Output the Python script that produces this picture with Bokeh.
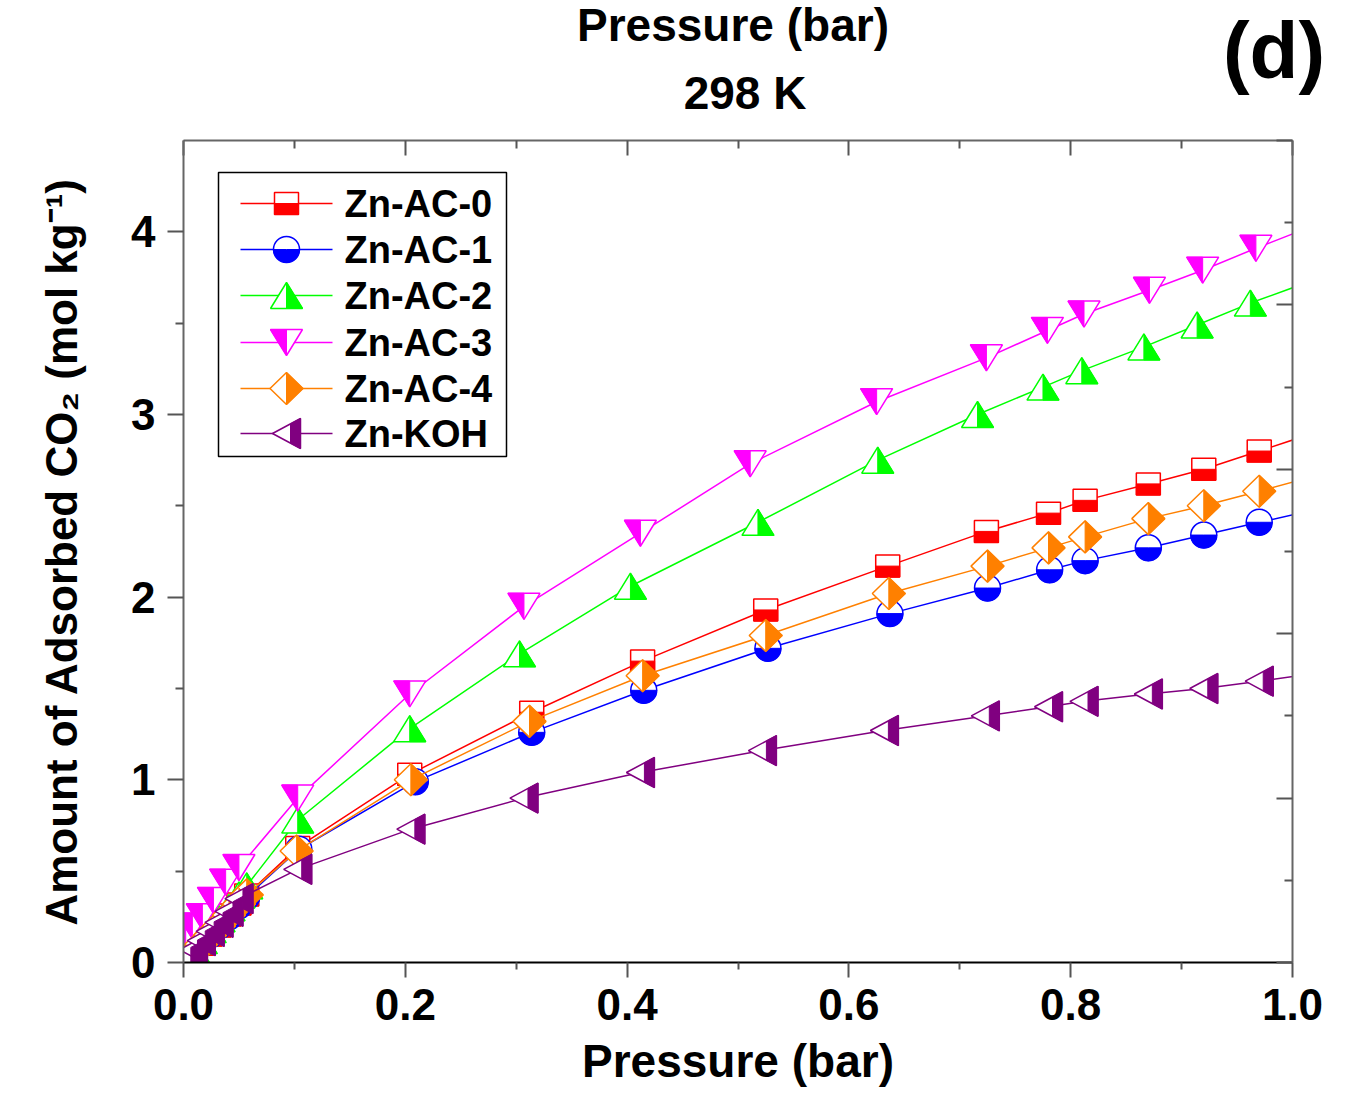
import numpy as np
from bokeh.plotting import figure
from bokeh.layouts import column
from bokeh.models import (Range1d, LinearAxis, Label, FixedTicker, Div,
                          PrintfTickFormatter, CustomJSTickFormatter)
from bokeh.embed import file_html
from bokeh.resources import INLINE

# ---------------- data ----------------
names = ["Zn-AC-0", "Zn-AC-1", "Zn-AC-2", "Zn-AC-3", "Zn-AC-4", "Zn-KOH"]

p_ac0 = [0.003, 0.009, 0.016, 0.024, 0.032, 0.041, 0.050, 0.057, 0.103, 0.204, 0.314, 0.414,
         0.525, 0.635, 0.724, 0.780, 0.813, 0.870, 0.920, 0.970, 1.030]
q_ac0 = [0.01, 0.05, 0.10, 0.15, 0.20, 0.26, 0.32, 0.37, 0.63, 1.03, 1.37, 1.65,
         1.93, 2.17, 2.36, 2.46, 2.53, 2.62, 2.70, 2.80, 2.92]

p_ac1 = [0.003, 0.009, 0.016, 0.024, 0.032, 0.041, 0.050, 0.057, 0.104, 0.209, 0.314, 0.415,
         0.527, 0.637, 0.725, 0.781, 0.813, 0.870, 0.920, 0.970, 1.030]
q_ac1 = [0.01, 0.05, 0.10, 0.15, 0.20, 0.25, 0.31, 0.36, 0.62, 0.99, 1.26, 1.49,
         1.72, 1.91, 2.05, 2.15, 2.20, 2.27, 2.34, 2.41, 2.49]

p_ac2 = [0.003, 0.009, 0.016, 0.024, 0.032, 0.041, 0.050, 0.057, 0.103, 0.204, 0.303, 0.403,
         0.518, 0.626, 0.716, 0.775, 0.810, 0.866, 0.914, 0.962, 1.030]
q_ac2 = [0.02, 0.07, 0.12, 0.18, 0.24, 0.30, 0.37, 0.42, 0.78, 1.28, 1.69, 2.06,
         2.41, 2.75, 3.00, 3.15, 3.24, 3.37, 3.49, 3.61, 3.76]

p_ac3 = [0.002, 0.008, 0.017, 0.027, 0.038, 0.050, 0.103, 0.204, 0.307, 0.412,
         0.511, 0.625, 0.724, 0.779, 0.812, 0.871, 0.919, 0.967, 1.030]
q_ac3 = [0.15, 0.20, 0.25, 0.34, 0.44, 0.52, 0.90, 1.47, 1.95, 2.35,
         2.73, 3.07, 3.31, 3.46, 3.55, 3.68, 3.79, 3.91, 4.06]

p_ac4 = [0.003, 0.009, 0.016, 0.024, 0.032, 0.041, 0.050, 0.057, 0.102, 0.205, 0.312, 0.414,
         0.525, 0.636, 0.725, 0.780, 0.813, 0.870, 0.920, 0.970, 1.030]
q_ac4 = [0.01, 0.05, 0.10, 0.15, 0.20, 0.26, 0.32, 0.37, 0.61, 1.00, 1.32, 1.57,
         1.79, 2.02, 2.17, 2.27, 2.33, 2.43, 2.50, 2.58, 2.68]

p_koh = [0.003, 0.009, 0.016, 0.024, 0.032, 0.041, 0.050, 0.103, 0.205, 0.307, 0.412,
         0.522, 0.632, 0.723, 0.780, 0.812, 0.870, 0.920, 0.970, 1.030]
q_koh = [0.03, 0.07, 0.12, 0.17, 0.22, 0.28, 0.35, 0.51, 0.73, 0.90, 1.04,
         1.16, 1.27, 1.35, 1.40, 1.43, 1.47, 1.50, 1.54, 1.59]

x_ticks = [0.0, 0.2, 0.4, 0.6, 0.8, 1.0]
x_minor = [0.1, 0.3, 0.5, 0.7, 0.9]
y_ticks = [0, 1, 2, 3, 4]
y_minor = [0.5, 1.5, 2.5, 3.5]
r_ticks = [0, 1, 2, 3, 4, 5]
r_minor = [0.5, 1.5, 2.5, 3.5, 4.5]

# ---------------- styles / layout ----------------
colors = ["#FF0000", "#0000FF", "#00FF00", "#FF00FF", "#FF8000", "#800080"]
shapes = ["square", "circle", "tri_up", "tri_down", "diamond", "tri_left"]
FONT = "Liberation Sans"

TOTAL_W, TOTAL_H = 1353, 1089
HEAD_H = 125                       # header strip with the titles
FW, FH = 1109, 822                 # frame size in px
X0, X1, Y0, Y1 = 0.0, 1.0, 0.0, 4.5
SX = FW / (X1 - X0)
SY = FH / (Y1 - Y0)
PAGE_FL, PAGE_FT = 183, 140        # frame left/top in picture px
LEFT, RIGHT = PAGE_FL, TOTAL_W - PAGE_FL - FW
TOP = PAGE_FT - HEAD_H
BOTTOM = TOTAL_H - PAGE_FT - FH


def px2x(px):
    return X0 + (px - PAGE_FL) / SX


def py2y(py):
    return Y1 - (py - PAGE_FT) / SY


# marker outlines and filled halves (pixel offsets, y up)
OUTLINE = {
    "square": [(-12, -11), (12, -11), (12, 11), (-12, 11)],
    "tri_up": [(-16, -13), (16, -13), (0, 13)],
    "tri_down": [(-16, 13), (16, 13), (0, -13)],
    "diamond": [(0, 16), (16.5, 0), (0, -16), (-16.5, 0)],
    "tri_left": [(-14, 0), (14, 15), (14, -15)],
}
FILL = {
    "square": [(-12, -11), (12, -11), (12, 0), (-12, 0)],
    "tri_up": [(0, -13), (16, -13), (0, 13)],
    "tri_down": [(-16, 13), (0, 13), (0, -13)],
    "diamond": [(0, 16), (16.5, 0), (0, -16)],
    "tri_left": [(4, 9.64), (14, 15), (14, -15), (4, -9.64)],
}


def polys(xs, ys, offs):
    pxs = [[x + dx / SX for dx, _ in offs] for x in xs]
    pys = [[y + dy / SY for _, dy in offs] for y in ys]
    return pxs, pys


def draw_markers(p, xs, ys, shape, color):
    if shape == "circle":
        p.scatter(xs, ys, marker="circle", size=26, fill_color="white",
                  line_color=color, line_width=1.5)
        p.wedge(xs, ys, radius=13, radius_units="screen", start_angle=np.pi,
                end_angle=2 * np.pi, direction="anticlock",
                fill_color=color, line_color=color, line_width=1)
    else:
        oxs, oys = polys(xs, ys, OUTLINE[shape])
        p.patches(oxs, oys, fill_color="white", line_color=color, line_width=1.5)
        fxs, fys = polys(xs, ys, FILL[shape])
        p.patches(fxs, fys, fill_color=color, line_color=color, line_width=1)


def style_axis(ax, line_color):
    ax.axis_line_color = line_color
    ax.axis_line_width = 2
    ax.major_tick_line_color = "#555555"
    ax.minor_tick_line_color = "#555555"
    ax.major_tick_line_width = 2
    ax.minor_tick_line_width = 2
    ax.major_label_text_color = "black"
    ax.axis_label_text_color = "black"


# ---------------- header strip (titles above the plot) ----------------
def head_text(txt, cx, baseline, size):
    top = baseline - 0.8465 * size
    return ('<span style="position:absolute;left:%dpx;top:%.1fpx;transform:translateX(-50%%);'
            'font-size:%dpx;line-height:1;white-space:nowrap;">%s</span>'
            % (cx, top, size, txt))


head_html = ('<div style="position:relative;width:%dpx;height:%dpx;overflow:hidden;'
             'font-family:\'Liberation Sans\';font-weight:bold;color:black;background:white;">'
             % (TOTAL_W, HEAD_H)
             + head_text("Pressure (bar)", 733, 41, 46)
             + head_text("298 K", 745, 109, 46)
             + head_text("(d)", 1274, 79, 80)
             + '</div>')
head = Div(text=head_html, width=TOTAL_W, height=HEAD_H, margin=(0, 0, 0, 0))

# ---------------- main plot ----------------
p = figure(frame_width=FW, frame_height=FH,
           x_range=Range1d(X0, X1), y_range=Range1d(Y0, Y1),
           output_backend="svg", toolbar_location=None,
           min_border_left=LEFT, min_border_top=TOP,
           min_border_right=RIGHT, min_border_bottom=BOTTOM,
           background_fill_color="white", border_fill_color="white")
p.extra_y_ranges = {"right": Range1d(0, 5)}
p.xgrid.visible = False
p.ygrid.visible = False
p.outline_line_color = None

# bottom axis
xa = p.xaxis[0]
style_axis(xa, "black")
xa.ticker = FixedTicker(ticks=x_ticks, minor_ticks=x_minor)
xa.formatter = PrintfTickFormatter(format="%.1f")
xa.axis_label = "Pressure (bar)"
xa.axis_label_text_font = FONT
xa.axis_label_text_font_size = "46px"
xa.axis_label_text_font_style = "bold"
xa.axis_label_standoff = 12
xa.major_label_text_font = FONT
xa.major_label_text_font_size = "44px"
xa.major_label_text_font_style = "bold"
xa.major_label_standoff = 11
xa.major_tick_out = 15
xa.major_tick_in = 0
xa.minor_tick_out = 7
xa.minor_tick_in = 0

# left axis
ya = p.yaxis[0]
style_axis(ya, "#666666")
ya.ticker = FixedTicker(ticks=y_ticks, minor_ticks=y_minor)
ya.formatter = PrintfTickFormatter(format="%d")
ya.axis_label = "Amount of Adsorbed CO\u2082 (mol kg\u207b\u00b9)"
ya.axis_label_text_font = FONT
ya.axis_label_text_font_size = "44px"
ya.axis_label_text_font_style = "bold"
ya.axis_label_standoff = 42
ya.major_label_text_font = FONT
ya.major_label_text_font_size = "44px"
ya.major_label_text_font_style = "bold"
ya.major_label_standoff = 12
ya.major_tick_out = 16
ya.major_tick_in = 0
ya.minor_tick_out = 8
ya.minor_tick_in = 0

blank = CustomJSTickFormatter(code="return ''")

# top axis (ticks inward, no labels)
ta = LinearAxis(ticker=FixedTicker(ticks=x_ticks, minor_ticks=x_minor), formatter=blank)
style_axis(ta, "#666666")
ta.major_label_text_font_size = "0px"
ta.major_label_standoff = 0
ta.major_tick_in = 15
ta.major_tick_out = 0
ta.minor_tick_in = 8
ta.minor_tick_out = 0
p.add_layout(ta, "above")

# right axis (ticks inward, no labels)
ra = LinearAxis(y_range_name="right", ticker=FixedTicker(ticks=r_ticks, minor_ticks=r_minor),
                formatter=blank)
style_axis(ra, "#666666")
ra.major_label_text_font_size = "0px"
ra.major_label_standoff = 0
ra.major_tick_in = 16
ra.major_tick_out = 0
ra.minor_tick_in = 8
ra.minor_tick_out = 0
p.add_layout(ra, "right")

# ---------------- legend box (drawn first) ----------------
p.quad(left=px2x(218), right=px2x(506), top=py2y(172), bottom=py2y(456),
       fill_color="white", line_color="black", line_width=1.5)

# ---------------- series ----------------
series = [(p_ac0, q_ac0), (p_ac1, q_ac1), (p_ac2, q_ac2),
          (p_ac3, q_ac3), (p_ac4, q_ac4), (p_koh, q_koh)]

for (xs, ys), c, sh in zip(series, colors, shapes):
    p.line(xs, ys, line_color=c, line_width=1.5)
    draw_markers(p, xs, ys, sh, c)

# ---------------- legend entries ----------------
row_py = [203, 249, 295, 342, 388, 433]
for name, c, sh, ry in zip(names, colors, shapes, row_py):
    yv = py2y(ry)
    p.line([px2x(240), px2x(332)], [yv, yv], line_color=c, line_width=1.5)
    draw_markers(p, [px2x(286)], [yv], sh, c)
    p.add_layout(Label(x=px2x(344), y=yv, text=name, text_font=FONT,
                       text_font_size="38px", text_font_style="bold",
                       text_baseline="middle", text_align="left", text_color="black"))

layout = column(head, p, spacing=0)
open("out.html", "w").write(file_html(layout, INLINE))
